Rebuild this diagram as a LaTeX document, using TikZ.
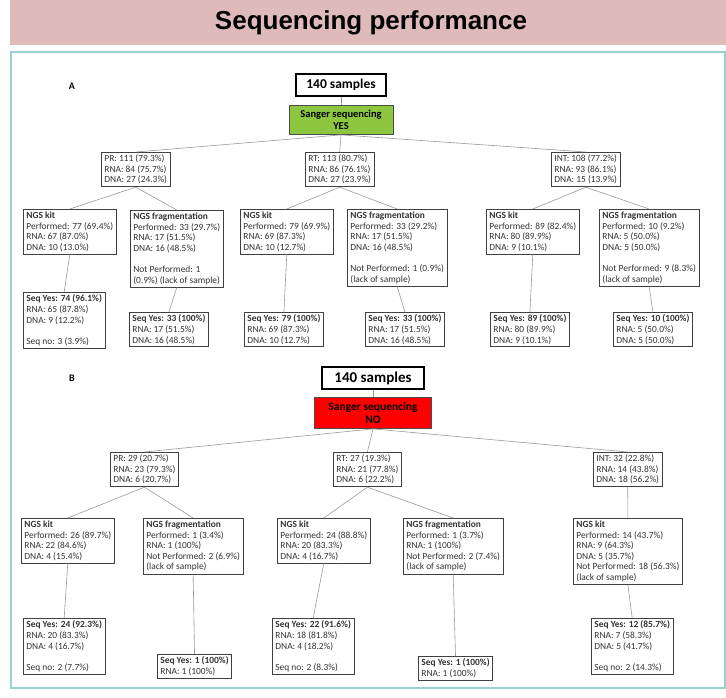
\documentclass[tikz,border=0pt]{standalone}
\usepackage{fontspec}
\setmainfont{Carlito}
\newfontfamily\headfont{Liberation Sans}
\usetikzlibrary{calc}
\definecolor{band}{RGB}{223,186,186}
\definecolor{frame}{RGB}{150,210,212}
\definecolor{yesgreen}{RGB}{141,198,63}
\definecolor{nored}{RGB}{255,0,0}

\begin{document}
\begin{tikzpicture}[x=1pt, y=-1pt,
    cell/.style={draw=black!75, line width=0.8pt, fill=white, align=left, anchor=north west,
      inner xsep=3pt, inner ysep=2.5pt, text=black!80, font=\fontsize{9.4}{10.6}\selectfont},
    total/.style={draw=black, line width=2pt, inner xsep=6pt, minimum height=22pt,
      font=\bfseries\fontsize{13.5}{15}\selectfont},
    sanger/.style={draw=black!70, line width=0.8pt, align=center, inner ysep=2pt,
      font=\bfseries\fontsize{10.5}{12}\selectfont},
    link/.style={draw=black!40, line width=0.6pt}]
    \useasboundingbox (0,0) rectangle (726,698);
    \fill[band] (10,0) rectangle (726,45);
    \node[font=\headfont\bfseries\fontsize{26}{30}\selectfont] (title) at (371,23) {Sequencing performance};
    \draw[frame, line width=1.2pt] (11,52) rectangle (725,688);

    % A: Sanger sequencing yes
    \node[font=\bfseries\fontsize{10}{12}\selectfont] (labA) at (72,86) {A};
    \node[total, minimum width=90pt] (samA) at (341,85) {140 samples};
    \node[sanger, fill=yesgreen, minimum width=104pt, minimum height=29pt] (sanA) at (341,120) {Sanger sequencing\\YES};

    \node[cell] (prA) at (101,152) {PR: 111 (79.3\%)\\RNA: 84 (75.7\%)\\DNA: 27 (24.3\%)};
    \node[cell] (rtA) at (305,152) {RT: 113 (80.7\%)\\RNA: 86 (76.1\%)\\DNA: 27 (23.9\%)};
    \node[cell] (intA) at (551,152) {INT: 108 (77.2\%)\\RNA: 93 (86.1\%)\\DNA: 15 (13.9\%)};

    \node[cell] (kitPRA) at (23,209) {\textbf{NGS kit}\\Performed: 77 (69.4\%)\\RNA: 67 (87.0\%)\\DNA: 10 (13.0\%)};
    \node[cell] (frgPRA) at (130,210) {\textbf{NGS fragmentation}\\Performed: 33 (29.7\%)\\RNA: 17 (51.5\%)\\DNA: 16 (48.5\%)\\[10.6pt]Not Performed: 1\\(0.9\%) (lack of sample)};
    \node[cell] (kitRTA) at (240,209) {\textbf{NGS kit}\\Performed: 79 (69.9\%)\\RNA: 69 (87.3\%)\\DNA: 10 (12.7\%)};
    \node[cell] (frgRTA) at (347,209) {\textbf{NGS fragmentation}\\Performed: 33 (29.2\%)\\RNA: 17 (51.5\%)\\DNA: 16 (48.5\%)\\[10.6pt]Not Performed: 1 (0.9\%)\\(lack of sample)};
    \node[cell] (kitINTA) at (486,209) {\textbf{NGS kit}\\Performed: 89 (82.4\%)\\RNA: 80 (89.9\%)\\DNA: 9 (10.1\%)};
    \node[cell] (frgINTA) at (599,209) {\textbf{NGS fragmentation}\\Performed: 10 (9.2\%)\\RNA: 5 (50.0\%)\\DNA: 5 (50.0\%)\\[10.6pt]Not Performed: 9 (8.3\%)\\(lack of sample)};

    \node[cell] (seqPRkA) at (23,292) {\textbf{Seq Yes: 74 (96.1\%)}\\RNA: 65 (87.8\%)\\DNA: 9 (12.2\%)\\[10.6pt]Seq no: 3 (3.9\%)};
    \node[cell] (seqPRfA) at (129,312) {\textbf{Seq Yes: 33 (100\%)}\\RNA: 17 (51.5\%)\\DNA: 16 (48.5\%)};
    \node[cell] (seqRTkA) at (244,312) {\textbf{Seq Yes: 79 (100\%)}\\RNA: 69 (87.3\%)\\DNA: 10 (12.7\%)};
    \node[cell] (seqRTfA) at (365,312) {\textbf{Seq Yes: 33 (100\%)}\\RNA: 17 (51.5\%)\\DNA: 16 (48.5\%)};
    \node[cell] (seqINTkA) at (490,312) {\textbf{Seq Yes: 89 (100\%)}\\RNA: 80 (89.9\%)\\DNA: 9 (10.1\%)};
    \node[cell] (seqINTfA) at (613,312) {\textbf{Seq Yes: 10 (100\%)}\\RNA: 5 (50.0\%)\\DNA: 5 (50.0\%)};

    % B: Sanger sequencing no
    \node[font=\bfseries\fontsize{10}{12}\selectfont] (labB) at (72,378) {B};
    \node[total, minimum width=102pt, font=\bfseries\fontsize{15}{17}\selectfont] (samB) at (373,378) {140 samples};
    \node[sanger, fill=nored, minimum width=117pt, minimum height=31pt, font=\bfseries\fontsize{11.5}{13}\selectfont] (sanB) at (373,413) {Sanger sequencing\\NO};

    \node[cell] (prB) at (110,452) {PR: 29 (20.7\%)\\RNA: 23 (79.3\%)\\DNA: 6 (20.7\%)};
    \node[cell] (rtB) at (333,452) {RT: 27 (19.3\%)\\RNA: 21 (77.8\%)\\DNA: 6 (22.2\%)};
    \node[cell] (intB) at (593,452) {INT: 32 (22.8\%)\\RNA: 14 (43.8\%)\\DNA: 18 (56.2\%)};

    \node[cell] (kitPRB) at (21,518) {\textbf{NGS kit}\\Performed: 26 (89.7\%)\\RNA: 22 (84.6\%)\\DNA: 4 (15.4\%)};
    \node[cell] (frgPRB) at (143,518) {\textbf{NGS fragmentation}\\Performed: 1 (3.4\%)\\RNA: 1 (100\%)\\Not Performed: 2 (6.9\%)\\(lack of sample)};
    \node[cell] (kitRTB) at (277,518) {\textbf{NGS kit}\\Performed: 24 (88.8\%)\\RNA: 20 (83.3\%)\\DNA: 4 (16.7\%)};
    \node[cell] (frgRTB) at (403,518) {\textbf{NGS fragmentation}\\Performed: 1 (3.7\%)\\RNA: 1 (100\%)\\Not Performed: 2 (7.4\%)\\(lack of sample)};
    \node[cell] (kitINTB) at (573,518) {\textbf{NGS kit}\\Performed: 14 (43.7\%)\\RNA: 9 (64.3\%)\\DNA: 5 (35.7\%)\\Not Performed: 18 (56.3\%)\\(lack of sample)};

    \node[cell] (seqPRkB) at (23,618) {\textbf{Seq Yes: 24 (92.3\%)}\\RNA: 20 (83.3\%)\\DNA: 4 (16.7\%)\\[10.6pt]Seq no: 2 (7.7\%)};
    \node[cell] (seqPRfB) at (157,654) {\textbf{Seq Yes: 1 (100\%)}\\RNA: 1 (100\%)};
    \node[cell] (seqRTkB) at (272,618) {\textbf{Seq Yes: 22 (91.6\%)}\\RNA: 18 (81.8\%)\\DNA: 4 (18.2\%)\\[10.6pt]Seq no: 2 (8.3\%)};
    \node[cell] (seqRTfB) at (418,656) {\textbf{Seq Yes: 1 (100\%)}\\RNA: 1 (100\%)};
    \node[cell] (seqINTkB) at (591,618) {\textbf{Seq Yes: 12 (85.7\%)}\\RNA: 7 (58.3\%)\\DNA: 5 (41.7\%)\\[10.6pt]Seq no: 2 (14.3\%)};

    % connectors
    \foreach \p/\c in {samA/sanA, sanA/prA, sanA/rtA, sanA/intA,
        prA/kitPRA, prA/frgPRA, rtA/kitRTA, rtA/frgRTA, intA/kitINTA, intA/frgINTA,
        kitPRA/seqPRkA, frgPRA/seqPRfA, kitRTA/seqRTkA, frgRTA/seqRTfA, kitINTA/seqINTkA, frgINTA/seqINTfA,
        samB/sanB, sanB/prB, sanB/rtB, sanB/intB,
        prB/kitPRB, prB/frgPRB, rtB/kitRTB, rtB/frgRTB, intB/kitINTB,
        kitPRB/seqPRkB, frgPRB/seqPRfB, kitRTB/seqRTkB, frgRTB/seqRTfB, kitINTB/seqINTkB}
        \draw[link] (\p.south) -- (\c.north);
\end{tikzpicture}
\end{document}
